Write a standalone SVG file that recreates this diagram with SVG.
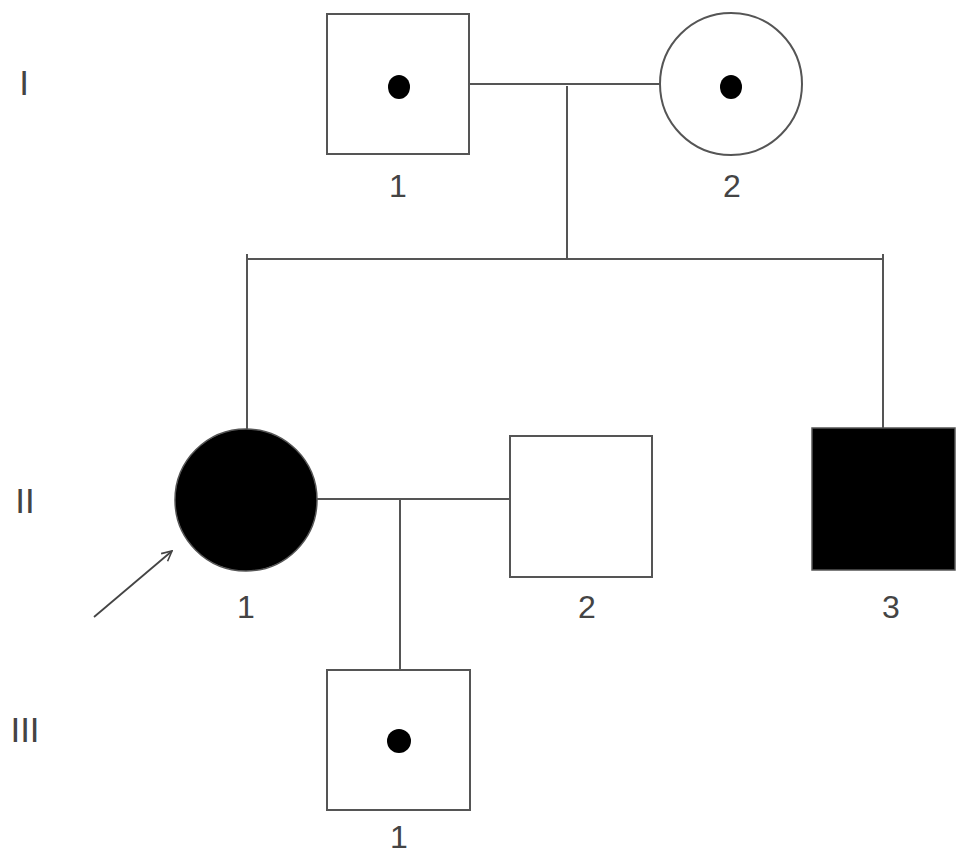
<svg xmlns="http://www.w3.org/2000/svg" width="969" height="862" viewBox="0 0 969 862">
<defs>
<style>
.ln{stroke:#555;stroke-width:2;fill:none}
.open{fill:#fff;stroke:#555;stroke-width:2}
.aff{fill:#000;stroke:#555;stroke-width:1.5}
.dot{fill:#000}
.num{font-family:"Liberation Sans",Arial,sans-serif;font-size:32px;fill:#444;text-anchor:middle}
.gen{font-family:"Liberation Sans",Arial,sans-serif;font-size:35px;fill:#444;text-anchor:middle}
</style>
<marker id="arr" viewBox="0 0 12 12" refX="11" refY="6" markerWidth="12" markerHeight="12" markerUnits="userSpaceOnUse" orient="auto">
<path d="M1,1 L11,6 L1,11" fill="none" stroke="#444" stroke-width="1.6"/>
</marker>
</defs>
<rect width="969" height="862" fill="#fff"/>
<g id="generations">
<text class="gen" x="24" y="95">I</text>
<text class="gen" x="25" y="513">II</text>
<text class="gen" x="25" y="742">III</text>
</g>
<g id="connectors">
<line class="ln" x1="469" y1="84" x2="660" y2="84"/>
<line class="ln" x1="567" y1="86" x2="567" y2="259"/>
<line class="ln" x1="247" y1="259" x2="883" y2="259"/>
<line class="ln" x1="247" y1="254" x2="247" y2="430"/>
<line class="ln" x1="883" y1="254" x2="883" y2="428"/>
<line class="ln" x1="317" y1="499" x2="510" y2="499"/>
<line class="ln" x1="400" y1="499" x2="400" y2="670"/>
<line x1="94" y1="617" x2="172" y2="551" stroke="#444" stroke-width="1.8" marker-end="url(#arr)"/>
</g>
<g id="I-1">
<rect class="open" x="327" y="14" width="142" height="140"/>
<ellipse class="dot" cx="399" cy="87" rx="11" ry="12"/>
<text class="num" x="398" y="197">1</text>
</g>
<g id="I-2">
<circle class="open" cx="731" cy="84" r="71"/>
<ellipse class="dot" cx="731" cy="87" rx="11" ry="12"/>
<text class="num" x="732" y="197">2</text>
</g>
<g id="II-1">
<circle class="aff" cx="246" cy="500" r="71"/>
<text class="num" x="246" y="618">1</text>
</g>
<g id="II-2">
<rect class="open" x="510" y="436" width="142" height="141"/>
<text class="num" x="587" y="618">2</text>
</g>
<g id="II-3">
<rect class="aff" x="812" y="428" width="143" height="142"/>
<text class="num" x="891" y="618">3</text>
</g>
<g id="III-1">
<rect class="open" x="327" y="670" width="143" height="140"/>
<circle class="dot" cx="399" cy="741" r="12"/>
<text class="num" x="399" y="848">1</text>
</g>
</svg>
